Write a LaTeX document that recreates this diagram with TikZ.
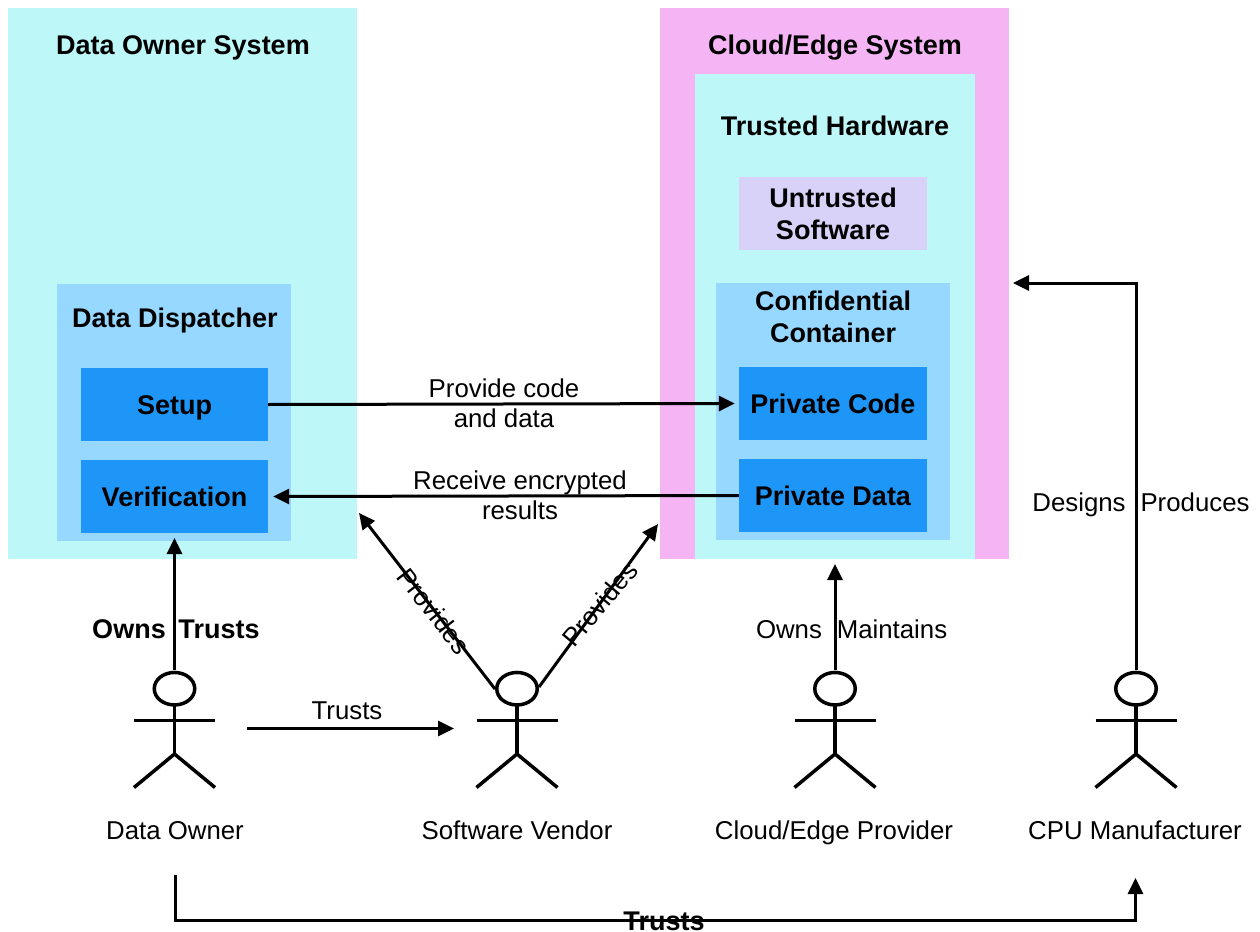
\documentclass[tikz,border=0pt]{standalone}
\usepackage{fontspec}
\setmainfont{Liberation Sans}
\usetikzlibrary{arrows.meta}
\definecolor{cyanbg}{HTML}{BEF7F8}
\definecolor{pinkbg}{HTML}{F5B5F5}
\definecolor{lightblue}{HTML}{96D8FF}
\definecolor{midblue}{HTML}{1E96F8}
\definecolor{lilac}{HTML}{D9D2F8}
\tikzset{
  x=1pt,y=-1pt,
  boldfont/.style={font=\fontsize{27}{32}\selectfont\bfseries},
  plainfont/.style={font=\fontsize{25.8}{30}\selectfont},
  box/.style={inner sep=0pt,boldfont,text height=19.5pt,text depth=0pt},
  boldmulti/.style={inner sep=0pt,align=center,boldfont},
  boldlabel/.style={inner sep=0pt,boldfont,text height=19.5pt,text depth=0pt},
  plainmulti/.style={inner sep=0pt,align=center,plainfont},
  plainlabel/.style={inner sep=0pt,plainfont,text height=18.5pt,text depth=0pt},
  conn/.style={line width=3pt,-{Triangle[length=16pt,width=15pt]}},
  body/.style={line width=3.5pt},
}
\begin{document}
\begin{tikzpicture}
\useasboundingbox (0,0) rectangle (1260,931);
% containers
\fill[cyanbg] (8,8) rectangle (357,559);
\fill[pinkbg] (660,8) rectangle (1009,559);
\fill[cyanbg] (695,74) rectangle (975,559);
\fill[lilac] (739,177) rectangle (927,250);
\fill[lightblue] (57,284) rectangle (291,541);
\fill[lightblue] (716,283) rectangle (950,540);
\node[boldlabel] (dos) at (183,45) {Data Owner System};
\node[boldlabel] (ces) at (835,45) {Cloud/Edge System};
\node[boldlabel] (th) at (835,126) {Trusted Hardware};
\node[boldmulti] (us) at (833,214) {Untrusted\\Software};
\node[boldlabel] (dd) at (175,318) {Data Dispatcher};
\node[boldmulti] (cc) at (833,317) {Confidential\\Container};
\node[box,fill=midblue,minimum width=187pt,minimum height=73pt] (setup) at (174.5,404.5) {Setup};
\node[box,fill=midblue,minimum width=187pt,minimum height=73pt] (verif) at (174.5,496.5) {Verification};
\node[box,fill=midblue,minimum width=188pt,minimum height=73pt] (pcode) at (833,403.5) {Private Code};
\node[box,fill=midblue,minimum width=188pt,minimum height=73pt] (pdata) at (833,495.5) {Private Data};
% anchors for free ends
\coordinate (dosB) at (174.5,538);
\coordinate (cesB) at (835,564);
\coordinate (cesR) at (1013,283);
\coordinate (dosC) at (359,513);
\coordinate (cesL) at (658,524);
% actors
\foreach \n/\x in {a/174.5,b/517,c/835,d/1136}{
  \draw[body] (\x,688.7) ellipse [x radius=20.25,y radius=16.25];
  \draw[body] (\x,705) -- (\x,754);
  \draw[body] (\x-40.5,720.5) -- (\x+40.5,720.5);
  \draw[body] (\x-40.5,787.5) -- (\x,754) -- (\x+40.5,787.5);
}
\coordinate (aT) at (174.5,670);
\coordinate (cT) at (835,670);
\coordinate (dT) at (1136,670);
\coordinate (bL) at (495,689);
\coordinate (bR) at (539,687);
\coordinate (aR) at (247,728.5);
\coordinate (bW) at (454,728.5);
\coordinate (aB) at (175.5,875);
\coordinate (dB) at (1135.5,878);
\coordinate (aBC) at (175.5,920);
\node[plainlabel] (l1) at (175,830) {Data Owner};
\node[plainlabel] (l2) at (517,830) {Software Vendor};
\node[plainlabel] (l3) at (834,830) {Cloud/Edge Provider};
\node[plainlabel] (l4) at (1135,830) {CPU Manufacturer};
% connectors
\draw[conn] (aT) -- (dosB);
\draw[conn] (cT) -- (cesB);
\draw[conn] (dT) |- (cesR);
\draw[conn] (aR) -- (bW);
\draw[conn] (bL) -- (dosC);
\draw[conn] (bR) -- (cesL);
\draw[conn] (setup.east) -- ([xshift=-4pt]pcode.west);
\draw[conn] (pdata.west) -- ([xshift=5pt]verif.east);
\draw[conn] (aB) -- (aBC) -| (dB);
% labels
\node[boldlabel] (t1) at (129,629) {Owns};
\node[boldlabel] (t2) at (219,629) {Trusts};
\node[plainlabel] (t3) at (789,629) {Owns};
\node[plainlabel] (t4) at (892,629) {Maintains};
\node[plainlabel] (t5) at (1079,502) {Designs};
\node[plainlabel] (t6) at (1195,502) {Produces};
\node[plainlabel] (t7) at (347,710) {Trusts};
\node[plainmulti] (t8) at (504,403.5) {Provide code\\and data};
\node[plainmulti] (t9) at (520,495) {Receive encrypted\\results};
\node[plainmulti,rotate=-52] (t10) at (434,611) {Provides};
\node[plainmulti,rotate=50] (t11) at (600,604) {Provides};
\node[boldlabel] (t12) at (664,920.5) {Trusts};
\end{tikzpicture}
\end{document}
